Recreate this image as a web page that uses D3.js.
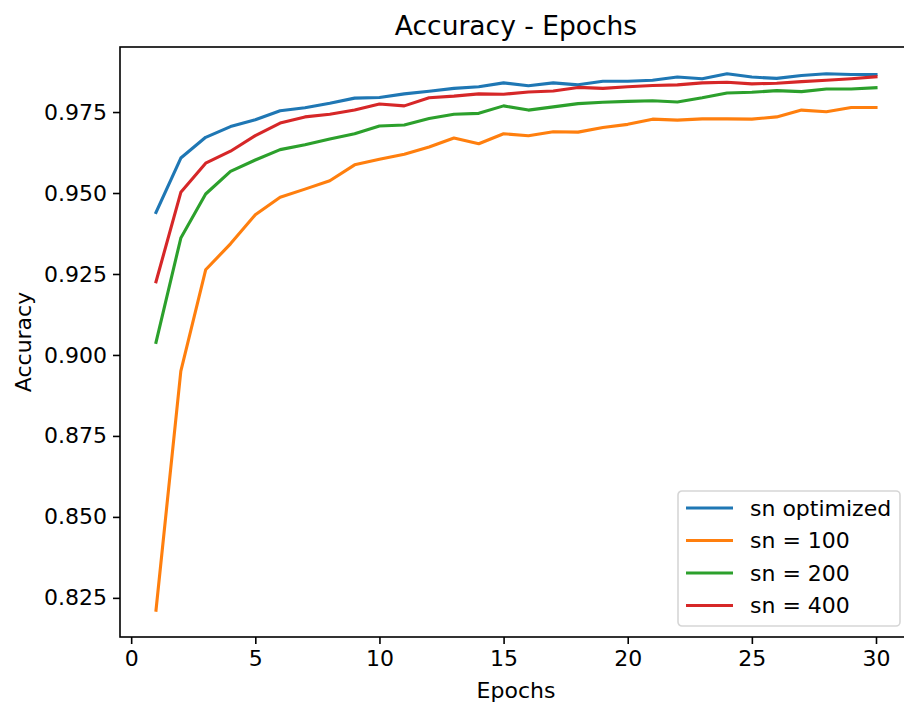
<!DOCTYPE html>
<html>
<head>
<meta charset="utf-8">
<script src="https://cdn.jsdelivr.net/npm/d3@7"></script>
<style>
  body { margin: 0; background: #fff; }
  svg { display: block; font-family: "DejaVu Sans", sans-serif; }
</style>
</head>
<body>
<div id="chart"></div>
<script>
// data
const epochs = d3.range(1, 31);

const snOptimized = [0.9440, 0.9608, 0.9672, 0.9705, 0.9726, 0.9754, 0.9763, 0.9777, 0.9793, 0.9795,
  0.9806, 0.9814, 0.9823, 0.9828, 0.9840, 0.9831, 0.9840, 0.9834, 0.9845, 0.9845,
  0.9848, 0.9858, 0.9853, 0.9868, 0.9858, 0.9854, 0.9863, 0.9868, 0.9866, 0.9866];

const sn100 = [0.8212, 0.8950, 0.9263, 0.9343, 0.9433, 0.9487, 0.9512, 0.9538, 0.9587, 0.9604,
  0.9620, 0.9642, 0.9670, 0.9652, 0.9683, 0.9677, 0.9689, 0.9688, 0.9702, 0.9712,
  0.9728, 0.9725, 0.9729, 0.9729, 0.9728, 0.9735, 0.9756, 0.9751, 0.9764, 0.9764];

const sn200 = [0.9039, 0.9361, 0.9497, 0.9567, 0.9602, 0.9634, 0.9649, 0.9667, 0.9683, 0.9707,
  0.9710, 0.9730, 0.9743, 0.9746, 0.9769, 0.9756, 0.9766, 0.9776, 0.9780, 0.9783,
  0.9785, 0.9781, 0.9794, 0.9809, 0.9811, 0.9816, 0.9813, 0.9821, 0.9821, 0.9825];

const sn400 = [0.9226, 0.9502, 0.9592, 0.9629, 0.9677, 0.9716, 0.9735, 0.9743, 0.9756, 0.9775,
  0.9769, 0.9794, 0.9799, 0.9806, 0.9805, 0.9812, 0.9815, 0.9826, 0.9823, 0.9828,
  0.9832, 0.9834, 0.9840, 0.9842, 0.9837, 0.9839, 0.9844, 0.9848, 0.9853, 0.9859];

const seriesNames = ['sn optimized', 'sn = 100', 'sn = 200', 'sn = 400'];
const seriesValues = [snOptimized, sn100, sn200, sn400];
const colors = ['#1f77b4', '#ff7f0e', '#2ca02c', '#d62728'];

const xTicks = [0, 5, 10, 15, 20, 25, 30];
const yTicks = [0.825, 0.850, 0.875, 0.900, 0.925, 0.950, 0.975];

const W = 904, H = 705;
const plotLeft = 120, plotRight = 912, plotTop = 47, plotBottom = 637;
const fs = 22;

const svg = d3.select('#chart').append('svg')
  .attr('width', W)
  .attr('height', H);

// matplotlib style 5% margins
const xPad = (30 - 1) * 0.05;
const x = d3.scaleLinear().domain([1 - xPad, 30 + xPad]).range([plotLeft, plotRight]);

const allVals = seriesValues.flat();
const yMin = d3.min(allVals), yMax = d3.max(allVals);
const yPad = (yMax - yMin) * 0.05;
const y = d3.scaleLinear().domain([yMin - yPad, yMax + yPad]).range([plotBottom, plotTop]);

// lines
const line = d3.line()
  .x((d, i) => x(epochs[i]))
  .y((d) => y(d));

svg.append('g')
  .selectAll('path')
  .data(seriesValues)
  .join('path')
  .attr('d', line)
  .attr('fill', 'none')
  .attr('stroke', (d, i) => colors[i])
  .attr('stroke-width', 3.1)
  .attr('stroke-linejoin', 'round')
  .attr('stroke-linecap', 'square');

// axes
const xAxis = d3.axisBottom(x).tickValues(xTicks).tickSize(7).tickPadding(6).tickFormat(d3.format('d'));
const yAxis = d3.axisLeft(y).tickValues(yTicks).tickSize(7).tickPadding(6).tickFormat(d3.format('.3f'));

const gx = svg.append('g').attr('transform', `translate(0,${plotBottom})`).call(xAxis);
const gy = svg.append('g').attr('transform', `translate(${plotLeft},0)`).call(yAxis);

[gx, gy].forEach((g) => {
  g.select('.domain').remove();
  g.selectAll('.tick line').attr('stroke', '#000').attr('stroke-width', 1.6);
  g.selectAll('.tick text').attr('fill', '#000').attr('font-size', fs)
    .attr('font-family', '"DejaVu Sans", sans-serif');
});
gx.selectAll('.tick text').attr('dy', '0.72em');

// spines
svg.append('rect')
  .attr('x', plotLeft)
  .attr('y', plotTop)
  .attr('width', plotRight - plotLeft)
  .attr('height', plotBottom - plotTop)
  .attr('fill', 'none')
  .attr('stroke', '#000')
  .attr('stroke-width', 1.6);

// title and labels
svg.append('text')
  .attr('x', (plotLeft + plotRight) / 2)
  .attr('y', 35)
  .attr('text-anchor', 'middle')
  .attr('font-size', 26.5)
  .text('Accuracy - Epochs');

svg.append('text')
  .attr('x', (plotLeft + plotRight) / 2)
  .attr('y', 698)
  .attr('text-anchor', 'middle')
  .attr('font-size', fs)
  .text('Epochs');

svg.append('text')
  .attr('transform', `translate(31,${(plotTop + plotBottom) / 2}) rotate(-90)`)
  .attr('text-anchor', 'middle')
  .attr('font-size', fs)
  .text('Accuracy');

// legend
const legend = svg.append('g').attr('transform', 'translate(678,491)');

legend.append('rect')
  .attr('width', 222)
  .attr('height', 135)
  .attr('rx', 4)
  .attr('fill', '#fff')
  .attr('fill-opacity', 0.8)
  .attr('stroke', '#d6d6d6')
  .attr('stroke-width', 1.6);

const item = legend.selectAll('g.item')
  .data(seriesNames)
  .join('g')
  .attr('class', 'item')
  .attr('transform', (d, i) => `translate(0,${17 + 32.5 * i})`);

item.append('line')
  .attr('x1', 8)
  .attr('x2', 55)
  .attr('stroke', (d, i) => colors[i])
  .attr('stroke-width', 3.1);

item.append('text')
  .attr('x', 72)
  .attr('dy', '0.35em')
  .attr('font-size', fs)
  .text((d) => d);
</script>
</body>
</html>
